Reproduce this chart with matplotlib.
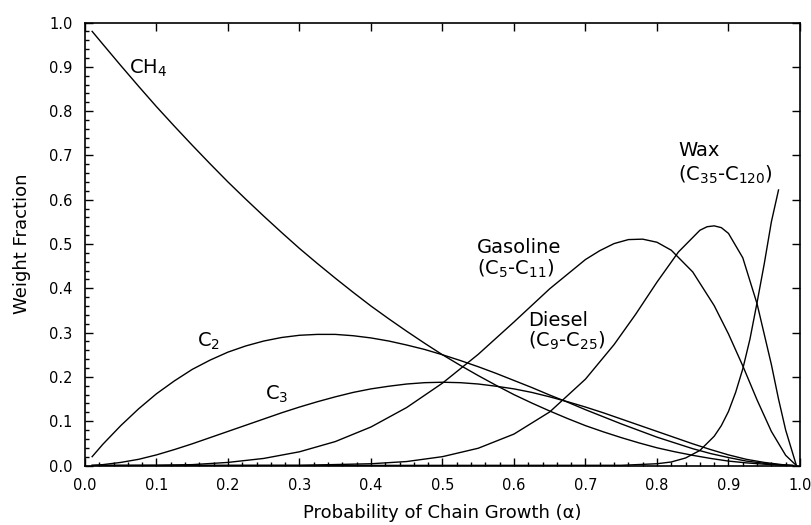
import matplotlib
matplotlib.use("Agg")
import matplotlib.pyplot as plt
from matplotlib.ticker import MultipleLocator

plt.rcParams['font.family'] = ['DejaVu Sans']

# values
alpha_light = [0.01, 0.025, 0.05, 0.075, 0.10, 0.125, 0.15, 0.175, 0.20, 0.225, 0.25,
               0.275, 0.30, 0.325, 0.35, 0.375, 0.40, 0.425, 0.45, 0.475, 0.50,
               0.525, 0.55, 0.575, 0.60, 0.625, 0.65, 0.675, 0.70, 0.725, 0.75,
               0.775, 0.80, 0.825, 0.85, 0.875, 0.90, 0.925, 0.95, 0.975, 0.99]
ch4 = [0.980, 0.951, 0.903, 0.856, 0.810, 0.766, 0.723, 0.681, 0.640, 0.601, 0.563,
       0.526, 0.490, 0.456, 0.423, 0.391, 0.360, 0.331, 0.303, 0.276, 0.250,
       0.226, 0.203, 0.181, 0.160, 0.141, 0.123, 0.106, 0.090, 0.076, 0.063,
       0.051, 0.040, 0.031, 0.023, 0.016, 0.010, 0.006, 0.003, 0.001, 0.0]
c2 = [0.020, 0.048, 0.090, 0.128, 0.162, 0.191, 0.217, 0.238, 0.256, 0.270, 0.281,
      0.289, 0.294, 0.296, 0.296, 0.293, 0.288, 0.281, 0.272, 0.262, 0.250,
      0.237, 0.223, 0.208, 0.192, 0.176, 0.159, 0.143, 0.126, 0.110, 0.094,
      0.079, 0.064, 0.051, 0.038, 0.027, 0.018, 0.010, 0.005, 0.001, 0.0]
c3 = [0.0, 0.002, 0.007, 0.014, 0.024, 0.036, 0.049, 0.063, 0.077, 0.091, 0.105,
      0.119, 0.132, 0.144, 0.155, 0.165, 0.173, 0.179, 0.184, 0.187, 0.188,
      0.187, 0.184, 0.179, 0.173, 0.165, 0.155, 0.144, 0.132, 0.119, 0.105,
      0.091, 0.077, 0.063, 0.049, 0.036, 0.024, 0.014, 0.007, 0.002, 0.0]

alpha_gas = [0.01, 0.10, 0.15, 0.20, 0.25, 0.30, 0.35, 0.40, 0.45, 0.50, 0.55, 0.60, 0.65,
             0.70, 0.72, 0.74, 0.76, 0.78, 0.80, 0.82, 0.85, 0.88, 0.90, 0.92, 0.94,
             0.96, 0.98, 0.995]
gasoline = [0.0, 0.0005, 0.002, 0.007, 0.016, 0.031, 0.054, 0.087, 0.131, 0.186, 0.251, 0.324, 0.399,
            0.465, 0.485, 0.501, 0.510, 0.511, 0.504, 0.486, 0.437, 0.361, 0.297, 0.225, 0.148,
            0.077, 0.023, 0.0]

alpha_dsl = [0.01, 0.30, 0.40, 0.45, 0.50, 0.55, 0.60, 0.65, 0.70, 0.74, 0.77,
             0.80, 0.83, 0.86, 0.87, 0.88, 0.89, 0.90, 0.92, 0.94, 0.96, 0.97, 0.98, 0.995]
diesel = [0.0, 0.0004, 0.004, 0.009, 0.020, 0.039, 0.071, 0.121, 0.195, 0.273, 0.341,
          0.414, 0.482, 0.531, 0.539, 0.541, 0.537, 0.524, 0.469, 0.365, 0.228, 0.150, 0.080, 0.0]

alpha_wax = [0.01, 0.75, 0.80, 0.82, 0.84, 0.86, 0.88, 0.89, 0.90, 0.91, 0.92,
             0.93, 0.94, 0.95, 0.96, 0.97]
wax = [0.0, 0.0005, 0.004, 0.008, 0.017, 0.034, 0.066, 0.090, 0.122, 0.165, 0.218,
       0.285, 0.368, 0.455, 0.550, 0.622]

fig = plt.figure(figsize=(8.11, 5.25), dpi=100)
ax = fig.add_axes([0.1048, 0.1133, 0.8816, 0.8438])

for xs, ys in [(alpha_light, ch4), (alpha_light, c2), (alpha_light, c3),
               (alpha_gas, gasoline), (alpha_dsl, diesel), (alpha_wax, wax)]:
    ax.plot(xs, ys, color='black', lw=1.0)

ax.set_xlim(0, 1)
ax.set_ylim(0, 1)
ax.xaxis.set_major_locator(MultipleLocator(0.1))
ax.yaxis.set_major_locator(MultipleLocator(0.1))
ax.xaxis.set_minor_locator(MultipleLocator(0.02))
ax.yaxis.set_minor_locator(MultipleLocator(0.02))
ax.xaxis.set_major_formatter(lambda v, p: f"{v:.1f}")
ax.yaxis.set_major_formatter(lambda v, p: f"{v:.1f}")
ax.tick_params(which='major', direction='in', top=True, right=True, length=6,
               width=1.0, labelsize=10.5, pad=9)
ax.tick_params(which='minor', direction='in', top=False, right=False, length=3, width=1.0)
for s in ax.spines.values():
    s.set_linewidth(1.2)

ax.set_xlabel('Probability of Chain Growth (α)', fontsize=13, labelpad=8)
ax.set_ylabel('Weight Fraction', fontsize=13, labelpad=13)

fs = 14
ax.text(0.061, 0.885, 'CH$_4$', fontsize=fs, va='baseline')
ax.text(0.156, 0.268, 'C$_2$', fontsize=fs, va='baseline')
ax.text(0.252, 0.148, 'C$_3$', fontsize=fs, va='baseline')
ax.text(0.548, 0.480, 'Gasoline', fontsize=fs, va='baseline')
ax.text(0.548, 0.430, '(C$_5$-C$_{11}$)', fontsize=fs, va='baseline')
ax.text(0.620, 0.315, 'Diesel', fontsize=fs, va='baseline')
ax.text(0.620, 0.268, '(C$_9$-C$_{25}$)', fontsize=fs, va='baseline')
ax.text(0.830, 0.699, 'Wax', fontsize=fs, va='baseline')
ax.text(0.830, 0.644, '(C$_{35}$-C$_{120}$)', fontsize=fs, va='baseline')

fig.savefig('out.png', dpi=100)
